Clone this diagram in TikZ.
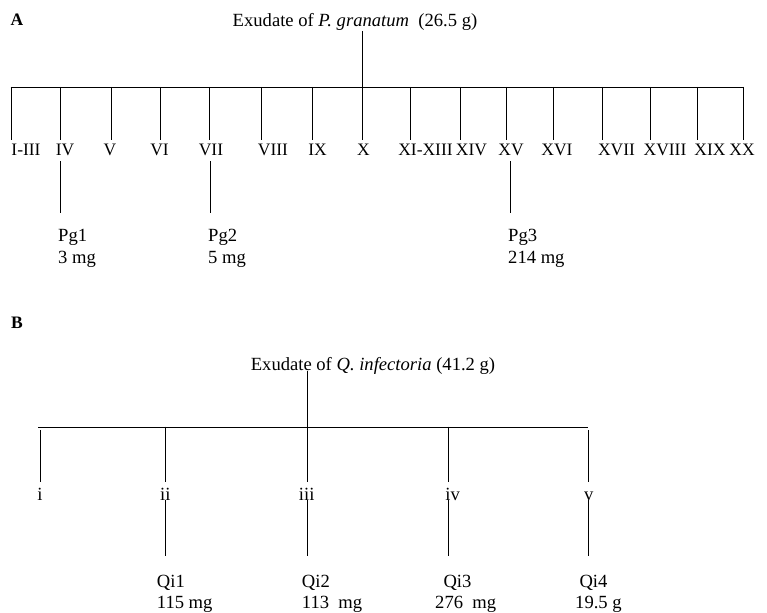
\documentclass[tikz,border=0pt]{standalone}
\usepackage{fontspec}
\setmainfont{Liberation Serif}
\begin{document}
\begin{tikzpicture}[x=1pt,y=-1pt,font=\fontsize{18.6}{22}\selectfont,
  frac/.style={anchor=base,inner sep=0pt,text height=16pt,text depth=5pt,font=\fontsize{17.5}{21}\selectfont},
  subfrac/.style={anchor=base,inner sep=0pt,text height=18pt,text depth=0pt},
  cmpd/.style={anchor=base west,inner sep=0pt,text depth=0pt},
  yield/.style={anchor=base west,inner sep=0pt},
  panel/.style={anchor=base,inner sep=0pt,font=\fontsize{17.5}{21}\selectfont\bfseries}]
\useasboundingbox (0,0) rectangle (767,612);

% A: fractions of P. granatum
\node[panel] (A) at (17,26) {A};
\node[anchor=base,inner sep=0pt,text depth=4pt] (exA) at (355,26.7) {Exudate of \textit{P. granatum}\ \ (26.5 g)};
\foreach \x/\lx/\t [count=\i] in {10.7/26/I-III, 60/65/IV, 110.7/110/V, 160/159.5/VI, 209/211/VII,
    260.7/273/VIII, 312/317.5/IX, 361.7/363.5/X, 410/425.5/XI-XIII, 460/471.5/XIV, 505.7/511/XV,
    552.7/557/XVI, 602/616.5/XVII, 650/665/XVIII, 696.7/710/XIX, 742.7/742/XX} {
  \coordinate (a\i) at (\x,87);
  \node[frac] (fa\i) at (\lx,156) {\t};
  \draw (a\i) -- (a\i |- fa\i.north);
}
\draw (a1) -- (a16);
\draw (a8 |- exA.south) -- (a8);
\foreach \i/\x/\c/\m in {2/58/Pg1/3 mg, 5/208/Pg2/5 mg, 11/508/Pg3/214 mg} {
  \node[cmpd,text height=28pt] (pg\i) at (\x,241.5) {\c};
  \node[yield] (ypg\i) at (\x,263.3) {\m};
  \coordinate (dpg\i) at (\x+1.8,0);
  \draw (dpg\i |- fa\i.south) -- (dpg\i |- pg\i.north);
}

% B: fractions of Q. infectoria
\node[panel] (B) at (17,328) {B};
\node[anchor=base,inner sep=0pt] (exB) at (373,370.7) {Exudate of \textit{Q. infectoria} (41.2 g)};
\coordinate (busBw) at (38.3,426.7);
\coordinate (busBe) at (588.3,426.7);
\draw (busBw) -- (busBe);
\foreach \x/\lx/\t/\top [count=\i] in {40/40/i/430, 165.3/165.3/ii/426.7, 306.7/306.7/iii/426.7,
    447.7/452.7/iv/426.7, 588.3/588.7/v/430} {
  \coordinate (b\i) at (\x,\top);
  \node[subfrac] (fb\i) at (\lx,500) {\t};
  \draw (b\i) -- (b\i |- fb\i.north);
}
\draw (b3 |- exB.base) -- (b3);
\foreach \i/\x/\cx/\c/\mx/\m in {2/165.3/156.7/Qi1/156.7/115 mg, 3/306.7/301.7/Qi2/301.7/113\ \ mg,
    4/447.7/443.3/Qi3/435/276\ \ mg, 5/588.3/579.3/Qi4/575/19.5 g} {
  \node[cmpd,text height=31pt] (qi\i) at (\cx,587) {\c};
  \node[yield] (yqi\i) at (\mx,608) {\m};
  \coordinate (dqi\i) at (\x,0);
  \draw (dqi\i |- fb\i.south) -- (dqi\i |- qi\i.north);
}
\end{tikzpicture}
\end{document}
